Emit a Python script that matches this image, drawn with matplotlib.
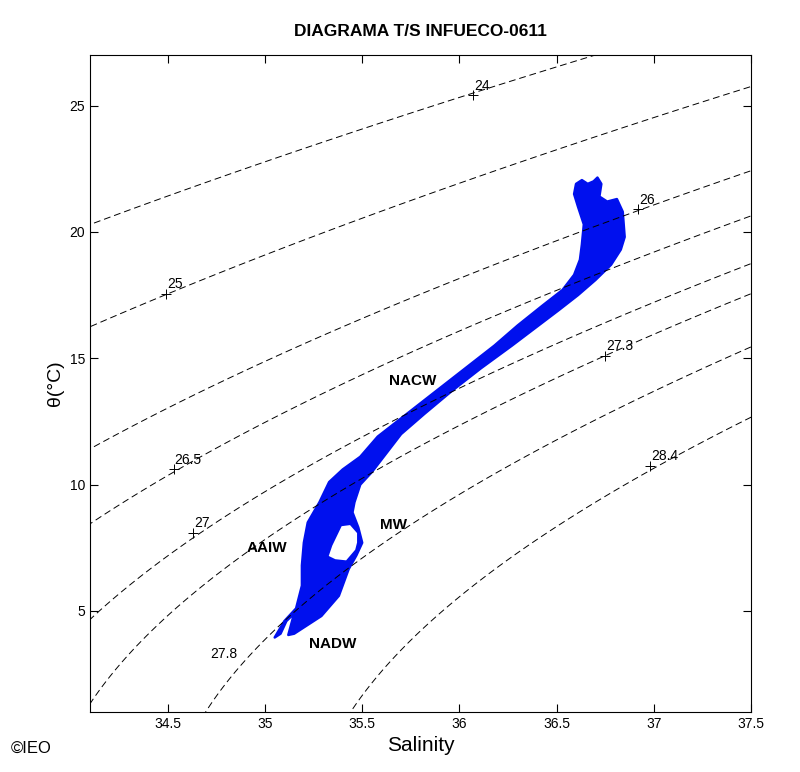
import numpy as np
import matplotlib
matplotlib.use("Agg")
import matplotlib.pyplot as plt
from matplotlib.path import Path
from matplotlib.patches import PathPatch

plt.rcParams["font.family"] = ["Liberation Sans", "DejaVu Sans"]

# isopycnal levels (sigma-theta) and where their labels sit
sigma_levels = [24, 25, 26, 26.5, 27, 27.3, 27.8, 28.4]
label_text = ["24", "25", "26", "26.5", "27", "27.3", "28.4"]
label_sal = [36.07, 34.49, 36.92, 34.53, 34.63, 36.75, 36.98]
label_temp = [25.4, 17.56, 20.9, 10.6, 8.1, 15.1, 10.75]

# outline of the CTD cloud (salinity, potential temperature)
outer_sal = [35.05, 35.10, 35.16, 35.19, 35.19, 35.20, 35.22, 35.28, 35.33, 35.40,
             35.49, 35.58, 35.73, 35.88, 36.03, 36.18, 36.30, 36.43, 36.53, 36.59,
             36.62, 36.63, 36.64, 36.61, 36.59, 36.60, 36.63, 36.66, 36.69, 36.71,
             36.73, 36.72, 36.76, 36.81, 36.84, 36.85, 36.83, 36.78, 36.70, 36.61,
             36.51, 36.39, 36.27, 36.11, 35.96, 35.82, 35.70, 35.61, 35.55, 35.49,
             35.46, 35.45, 35.48, 35.50, 35.47, 35.43, 35.38, 35.29, 35.21, 35.15,
             35.12, 35.15, 35.11, 35.08]
outer_temp = [3.95, 4.6, 5.1, 6.0, 6.8, 7.7, 8.5, 9.3, 10.1, 10.6,
              11.1, 11.9, 12.8, 13.7, 14.6, 15.5, 16.3, 17.1, 17.7, 18.3,
              18.9, 19.5, 20.3, 21.0, 21.5, 21.9, 22.05, 21.9, 22.0, 22.15,
              21.9, 21.4, 21.2, 21.3, 20.8, 19.8, 19.3, 18.7, 18.1, 17.5,
              16.9, 16.2, 15.5, 14.6, 13.7, 12.8, 12.0, 11.1, 10.5, 10.0,
              9.3, 8.9, 8.3, 7.7, 7.2, 6.65, 5.6, 4.8, 4.4, 4.1,
              4.05, 4.9, 4.6, 4.1]
hole_sal = [35.32, 35.34, 35.39, 35.44, 35.48, 35.48, 35.47, 35.42, 35.36]
hole_temp = [7.15, 7.6, 8.4, 8.45, 8.1, 7.7, 7.4, 6.95, 7.0]

# water mass names
mass_names = ["NACW", "AAIW", "MW", "NADW"]
mass_sal = [35.76, 35.01, 35.66, 35.35]
mass_temp = [14.1, 7.5, 8.4, 3.7]


def sigma0(s, t):
    # UNESCO EOS-80 at the surface
    rw = (999.842594 + 6.793952e-2 * t - 9.095290e-3 * t**2 + 1.001685e-4 * t**3
          - 1.120083e-6 * t**4 + 6.536332e-9 * t**5)
    a = 8.24493e-1 - 4.0899e-3 * t + 7.6438e-5 * t**2 - 8.2467e-7 * t**3 + 5.3875e-9 * t**4
    b = -5.72466e-3 + 1.0227e-4 * t - 1.6546e-6 * t**2
    c = 4.8314e-4
    return rw + a * s + b * s**1.5 + c * s**2 - 1000.0


fig = plt.figure(figsize=(8, 7.72), dpi=100)
ax = fig.add_axes([0.1125, 0.0777, 0.8263, 0.851])

ss, tt = np.meshgrid(np.linspace(34.0, 37.6, 300), np.linspace(0, 28, 300))
ax.contour(ss, tt, sigma0(ss, tt), levels=sigma_levels, colors="k",
           linewidths=0.7, linestyles=[(0, (7, 4))])

for txt, s, t in zip(label_text, label_sal, label_temp):
    ax.plot(s, t, "+", color="k", ms=7, mew=0.7)
    ax.text(s + 0.005, t + 0.1, txt, fontsize=10, ha="left", va="bottom")
ax.text(34.79, 3.3, "27.8", fontsize=10, ha="center", va="center")

verts = list(zip(outer_sal, outer_temp)) + [(outer_sal[0], outer_temp[0])]
codes = [Path.MOVETO] + [Path.LINETO] * (len(outer_sal) - 1) + [Path.CLOSEPOLY]
hv = list(zip(hole_sal, hole_temp))[::-1]
verts += hv + [hv[0]]
codes += [Path.MOVETO] + [Path.LINETO] * (len(hv) - 1) + [Path.CLOSEPOLY]
ax.add_patch(PathPatch(Path(verts, codes), facecolor="#0010ee",
                       edgecolor="#0010ee", lw=1.8, joinstyle="round"))

for name, s, t in zip(mass_names, mass_sal, mass_temp):
    ax.text(s, t, name, fontsize=11, fontweight="bold", ha="center", va="center")

ax.set_xlim(34.1, 37.5)
ax.set_ylim(1, 27)
ax.set_xticks([34.5, 35, 35.5, 36, 36.5, 37, 37.5])
ax.set_xticklabels(["34.5", "35", "35.5", "36", "36.5", "37", "37.5"])
ax.set_yticks([5, 10, 15, 20, 25])
ax.tick_params(direction="in", top=True, right=True, labelsize=10, length=6, width=0.8)
for sp in ax.spines.values():
    sp.set_linewidth(0.8)

ax.set_title("DIAGRAMA T/S INFUECO-0611", fontsize=12.5, fontweight="bold", pad=14)
ax.set_xlabel("Salinity", fontsize=15)
ax.set_ylabel("θ(°C)", fontsize=14)
fig.text(0.014, 0.031, "©IEO", fontsize=12, va="center")

fig.savefig("out.png", dpi=100)
